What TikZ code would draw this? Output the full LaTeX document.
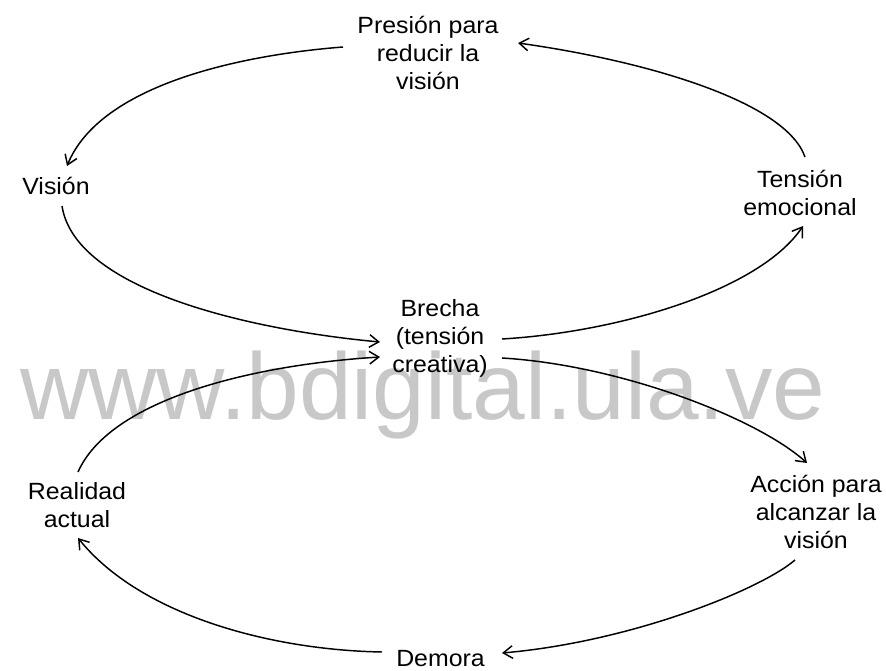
\documentclass[tikz,border=0pt]{standalone}
\usepackage{fontspec}
\usetikzlibrary{arrows.meta}
\newfontfamily\labfont{Liberation Sans}[FakeStretch=1.06]
\newfontfamily\wmfont{Liberation Sans}
\definecolor{wmgray}{RGB}{200,200,200}
\begin{document}
\begin{tikzpicture}[x=0.75pt,y=-0.75pt,
  lbl/.style={inner sep=0pt,align=center,font=\labfont\fontsize{17.6pt}{21pt}\selectfont},
  conn/.style={line width=1.1pt,-{Straight Barb[length=7pt,width=9.5pt,line width=1.1pt]}}]
\useasboundingbox (0,0) rectangle (886,671);
\fill[white] (0,0) rectangle (886,671);
% watermark
\node[anchor=base west,inner sep=0pt,text=wmgray,font=\wmfont\fontsize{71pt}{71pt}\selectfont] (wm) at (20,419) {www.bdigital.ula.ve};
% labels
\node[lbl] (P) at (428,52.5) {Presión para\\reducir la\\visión};
\node[lbl] (V) at (56,185.5) {Visión};
\node[lbl] (T) at (800,192.5) {Tensión\\emocional};
\node[lbl] (B) at (440,338.5) {Brecha\\(tensión\\creativa)};
\node[lbl] (R) at (77,505) {Realidad\\actual};
\node[lbl] (A) at (816,512) {Acción para\\alcanzar la\\visión};
\node[lbl] (D) at (440.5,658.5) {Demora};
% connectors
\draw[conn] ([shift={(-85,-5.5)}]P.center) .. controls (240,55) and (100,85) .. ([shift={(11,-19.5)}]V.center);
\draw[conn] ([shift={(5,-35.5)}]T.center) .. controls (785,100) and (640,60) .. ([shift={(90,-9.5)}]P.center);
\draw[conn] ([shift={(6,20.5)}]V.center) .. controls (75,290) and (250,330) .. ([shift={(-60,3.5)}]B.center);
\draw[conn] ([shift={(62,0.5)}]B.center) .. controls (620,332) and (760,290) .. ([shift={(3,33.5)}]T.center);
\draw[conn] ([shift={(62,19.5)}]B.center) .. controls (620,365) and (757,418) .. ([shift={(-9,-49)}]A.center);
\draw[conn] ([shift={(-21,48)}]A.center) .. controls (760,590) and (630,642) .. ([shift={(61.5,-5.5)}]D.center);
\draw[conn] ([shift={(-58.5,-6.5)}]D.center) .. controls (270,650) and (140,615) .. ([shift={(1,33)}]R.center);
\draw[conn] ([shift={(1,-33)}]R.center) .. controls (110,400) and (250,365) .. ([shift={(-60,18.5)}]B.center);
\end{tikzpicture}
\end{document}
